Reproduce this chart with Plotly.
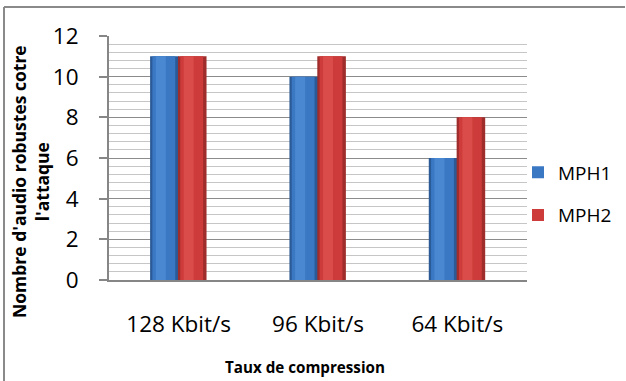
import plotly.graph_objects as go

# Data
categories = ["128 Kbit/s", "96 Kbit/s", "64 Kbit/s"]
mph1 = [11, 10, 6]
mph2 = [11, 11, 8]
series_names = ["MPH1", "MPH2"]

W, H = 626, 381
L, R, T, B = 109, 99, 36, 101
PW, PH = W - L - R, H - T - B

FONT = "Open Sans"
x_idx = list(range(len(categories)))

# shading layers per series: (edge, body, highlight)
shades = {
    "MPH1": ("#2b5a97", "#3a78c4", "#4a88d2"),
    "MPH2": ("#9e2d2b", "#cd3c3a", "#d94c49"),
}
offsets = {"MPH1": -0.205, "MPH2": -0.005}
BAR_W = 0.205

fig = go.Figure()
for name, vals in zip(series_names, [mph1, mph2]):
    edge, body, hi = shades[name]
    off = offsets[name]
    # outer edge
    fig.add_trace(go.Bar(x=x_idx, y=vals, width=BAR_W, offset=off,
                         marker=dict(color=edge, line=dict(width=0)),
                         showlegend=False, hoverinfo="skip"))
    # main body (legend entry)
    fig.add_trace(go.Bar(x=x_idx, y=vals, width=BAR_W * 0.8, offset=off + BAR_W * 0.08,
                         marker=dict(color=body, line=dict(width=0)),
                         name=name, legendgroup=name))
    # highlight
    fig.add_trace(go.Bar(x=x_idx, y=vals, width=BAR_W * 0.35, offset=off + BAR_W * 0.2,
                         marker=dict(color=hi, line=dict(width=0)),
                         showlegend=False, hoverinfo="skip"))


def px_x(p):
    return (p - L) / PW


def px_y(p):
    return (H - B - p) / PH


title_font = dict(family=FONT, size=17.5, color="black")

fig.update_layout(
    width=W, height=H,
    margin=dict(l=L, r=R, t=T, b=B, autoexpand=False),
    paper_bgcolor="white", plot_bgcolor="white",
    barmode="overlay",
    font=dict(family=FONT, color="black"),
    showlegend=True,
    legend=dict(x=px_x(518), y=px_y(194), xanchor="left", yanchor="middle",
                font=dict(family=FONT, size=19, color="black"),
                tracegroupgap=15, bgcolor="rgba(0,0,0,0)",
                itemwidth=30),
    xaxis=dict(
        range=[-0.5, 2.5], automargin=False,
        tickmode="array", tickvals=x_idx, ticktext=categories,
        tickfont=dict(family=FONT, size=22.5, color="black"),
        showgrid=False, zeroline=False,
        showline=True, linecolor="#868686", linewidth=2,
        ticks="", ticklabelstandoff=23,
    ),
    yaxis=dict(
        range=[0, 12], dtick=2, tick0=0, automargin=False,
        tickfont=dict(family=FONT, size=22.5, color="black"),
        showgrid=True, gridcolor="#8c8c8c", gridwidth=1,
        minor=dict(dtick=0.4, showgrid=True, gridcolor="#c6c6c6", gridwidth=1, ticks=""),
        zeroline=False,
        showline=True, linecolor="#868686", linewidth=2,
        ticks="outside", ticklen=8, tickcolor="#868686", tickwidth=1.5,
        ticklabelstandoff=16,
    ),
    annotations=[
        dict(text="<b>Taux de compression</b>", xref="paper", yref="paper",
             x=px_x(305), y=px_y(367), xanchor="center", yanchor="middle",
             showarrow=False, font=dict(family=FONT, size=15.2, color="black")),
        dict(text="<b>Nombre d'audio robustes cotre<br>l'attaque</b>",
             xref="paper", yref="paper",
             x=px_x(30), y=px_y(182), xanchor="center", yanchor="middle",
             textangle=-90, showarrow=False, font=title_font),
    ],
    shapes=[
        # frame around the chart area (left and top edges)
        dict(type="line", xref="paper", yref="paper",
             x0=px_x(4), x1=px_x(4), y0=px_y(7), y1=px_y(H),
             line=dict(color="#8a8a8a", width=2)),
        dict(type="line", xref="paper", yref="paper",
             x0=px_x(4), x1=px_x(W - 1), y0=px_y(7), y1=px_y(7),
             line=dict(color="#8a8a8a", width=2)),
    ],
)

fig.write_html("out.html", config={"displayModeBar": False, "responsive": False})
